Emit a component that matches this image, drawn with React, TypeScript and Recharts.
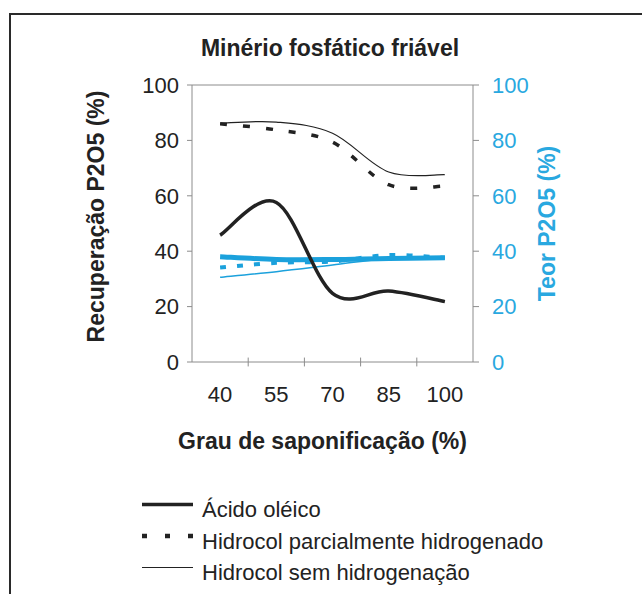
import { LineChart, Line, XAxis, YAxis, ReferenceLine } from 'recharts'

const grau = [40, 55, 70, 85, 100]
const xTicks = [40, 55, 70, 85, 100]
const xMarks = [47.5, 62.5, 77.5, 92.5]
const yTicks = [0, 20, 40, 60, 80, 100]

// Recuperação P2O5 (%) - eixo esquerdo
const recOleico = [45.8, 57.6, 24.8, 25.6, 21.8]
const recParcial = [86, 83.8, 79.4, 64, 63.5]
const recSem = [86.2, 86.6, 82.6, 68.6, 67.6]

// Teor P2O5 (%) - eixo direito
const teorOleico = [38, 37, 37, 37.4, 37.6]
const teorParcial = [34.1, 35.8, 36.3, 38.6, 37.6]
const teorSem = [30.6, 32.6, 35, 37.4, 37.6]

const legendItems = ['Ácido oléico', 'Hidrocol parcialmente hidrogenado', 'Hidrocol sem hidrogenação']

const data = grau.map((g, i) => ({
  grau: g,
  recOleico: recOleico[i],
  recParcial: recParcial[i],
  recSem: recSem[i],
  teorOleico: teorOleico[i],
  teorParcial: teorParcial[i],
  teorSem: teorSem[i],
}))

const FONT = '"Liberation Sans", Arial, sans-serif'
const CYAN = '#1ba1dc'
const CYAN_TXT = '#29a8e0'
const AXIS = '#8c8c8c'
const INK = '#222'

// suavização tipo Excel (Catmull-Rom em Bezier)
function excelSmooth(context: any) {
  let pts: number[][] = []
  return {
    areaStart() {},
    areaEnd() {},
    lineStart() {
      pts = []
    },
    point(x: number, y: number) {
      pts.push([+x, +y])
    },
    lineEnd() {
      const n = pts.length
      if (!n) return
      context.moveTo(pts[0][0], pts[0][1])
      for (let i = 0; i < n - 1; i++) {
        const p0 = pts[Math.max(i - 1, 0)]
        const p1 = pts[i]
        const p2 = pts[i + 1]
        const p3 = pts[Math.min(i + 2, n - 1)]
        context.bezierCurveTo(
          p1[0] + (p2[0] - p0[0]) / 6, p1[1] + (p2[1] - p0[1]) / 6,
          p2[0] - (p3[0] - p1[0]) / 6, p2[1] - (p3[1] - p1[1]) / 6,
          p2[0], p2[1]
        )
      }
    },
  }
}

const RotLabel = ({ viewBox, value, fill, dx, dy }: any) => {
  const cx = viewBox.x + dx
  const cy = viewBox.y + viewBox.height / 2 + dy
  return (
    <text
      x={cx}
      y={cy}
      transform={`rotate(-90, ${cx}, ${cy})`}
      textAnchor="middle"
      dominantBaseline="central"
      fontFamily={FONT}
      fontSize={23}
      fontWeight="bold"
      fill={fill}
    >
      {value}
    </text>
  )
}

const XLabel = ({ viewBox }: any) => (
  <text
    x={viewBox.x + viewBox.width / 2 - 10}
    y={viewBox.y + 87}
    textAnchor="middle"
    fontFamily={FONT}
    fontSize={23}
    fontWeight="bold"
    fill={INK}
  >
    Grau de saponificação (%)
  </text>
)

export default function App() {
  const tick = { fill: INK, fontSize: 22, fontFamily: FONT }
  return (
    <div style={{ position: 'absolute', left: 0, top: 0, width: 642, height: 594, overflow: 'hidden', background: '#fff' }}>
      <div
        style={{
          position: 'absolute',
          left: 9,
          top: 13,
          width: 700,
          height: 700,
          borderTop: '2.5px solid #2a2a2a',
          borderLeft: '2.5px solid #2a2a2a',
        }}
      />
      <div style={{ position: 'absolute', left: 0, top: 0 }}>
        <LineChart width={642} height={594} data={data} margin={{ top: 85, left: 92, right: 69, bottom: 142 }}>
          <XAxis
            dataKey="grau"
            type="number"
            domain={[32.5, 107.5]}
            ticks={xTicks}
            interval={0}
            tickLine={false}
            tickSize={0}
            tickMargin={24}
            stroke={AXIS}
            tick={tick}
            height={90}
            label={<XLabel />}
          />
          <YAxis
            yAxisId="left"
            domain={[0, 100]}
            ticks={yTicks}
            interval={0}
            width={100}
            stroke={AXIS}
            tickSize={5}
            tickMargin={8}
            tick={tick}
            label={<RotLabel value="Recuperação P2O5 (%)" fill={INK} dx={4} dy={-7} />}
          />
          <YAxis
            yAxisId="right"
            orientation="right"
            domain={[0, 100]}
            ticks={yTicks}
            interval={0}
            width={100}
            stroke={AXIS}
            tickSize={6}
            tickMargin={13}
            tick={{ ...tick, fill: CYAN_TXT }}
            label={<RotLabel value="Teor P2O5 (%)" fill={CYAN_TXT} dx={74} dy={0} />}
          />
          <ReferenceLine yAxisId="left" y={100} stroke={AXIS} strokeWidth={1} />
          {xMarks.map((m) => (
            <ReferenceLine
              key={m}
              yAxisId="left"
              segment={[{ x: m, y: -1.6 }, { x: m, y: 1.6 }]}
              stroke={AXIS}
              ifOverflow="visible"
            />
          ))}
          <Line yAxisId="right" dataKey="teorSem" type={excelSmooth as any} stroke={CYAN} strokeWidth={1.5} dot={false} isAnimationActive={false} />
          <Line yAxisId="right" dataKey="teorParcial" type={excelSmooth as any} stroke={CYAN} strokeWidth={4} strokeDasharray="6 11" dot={false} isAnimationActive={false} />
          <Line yAxisId="right" dataKey="teorOleico" type={excelSmooth as any} stroke={CYAN} strokeWidth={5} dot={false} isAnimationActive={false} />
          <Line yAxisId="left" dataKey="recSem" type={excelSmooth as any} stroke={INK} strokeWidth={1.2} dot={false} isAnimationActive={false} />
          <Line yAxisId="left" dataKey="recParcial" type={excelSmooth as any} stroke={INK} strokeWidth={3.5} strokeDasharray="7 16" dot={false} isAnimationActive={false} />
          <Line yAxisId="left" dataKey="recOleico" type={excelSmooth as any} stroke={INK} strokeWidth={3.5} dot={false} isAnimationActive={false} />
        </LineChart>
      </div>
      <svg width={642} height={594} style={{ position: 'absolute', left: 0, top: 0, pointerEvents: 'none' }}>
        <text x={330} y={56} textAnchor="middle" fontFamily={FONT} fontSize={23} fontWeight="bold" fill={INK}>
          Minério fosfático friável
        </text>
        {legendItems.map((name, i) => {
          const base = 517 + i * 31.5
          const ly = base - 12.5
          return (
            <g key={name}>
              <line
                x1={142}
                x2={193}
                y1={ly}
                y2={ly}
                stroke={INK}
                strokeWidth={i === 2 ? 1.2 : i === 1 ? 4.5 : 3.5}
                strokeDasharray={i === 1 ? '5 18' : undefined}
              />
              <text x={202} y={base} fontFamily={FONT} fontSize={22} fill={INK}>
                {name}
              </text>
            </g>
          )
        })}
      </svg>
    </div>
  )
}
